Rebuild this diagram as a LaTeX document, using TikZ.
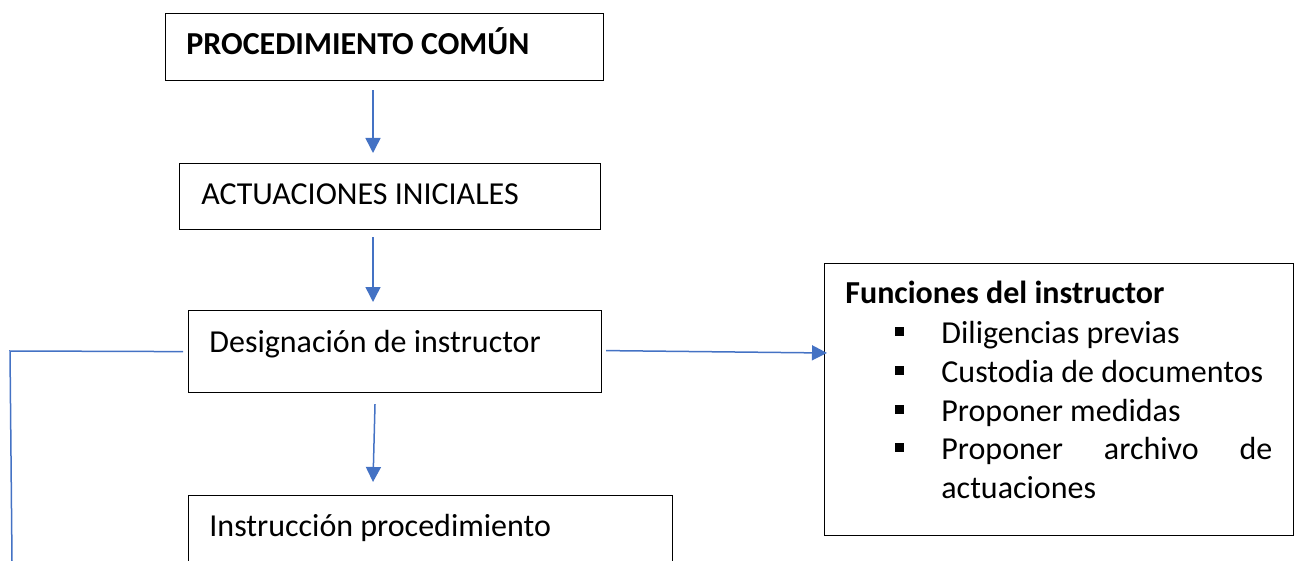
\documentclass[tikz,border=0pt]{standalone}
\usepackage{fontspec}
\setmainfont{Carlito}
\usetikzlibrary{arrows.meta,calc}
\definecolor{azul}{HTML}{4472C4}
\tikzset{
  caja/.style={draw=black, line width=0.6pt, anchor=north west, inner sep=0pt},
  texto/.style={anchor=base west, inner sep=0pt, font=\fontsize{16}{19.5}\selectfont},
  negrita/.style={texto, font=\fontsize{16}{19.5}\selectfont\bfseries},
  flecha/.style={azul, line width=0.75pt, -{Triangle[length=7.5pt,width=7.5pt]}},
  linea/.style={azul, line width=0.75pt},
}
\begin{document}
\begin{tikzpicture}[x=0.5pt, y=-0.5pt]
\useasboundingbox (0,0) rectangle (1300,561);

% cajas
\node[caja, minimum width=219pt, minimum height=33.5pt] (proc) at (165,13) {};
\node[caja, minimum width=210.5pt, minimum height=33pt] (ini) at (179,163) {};
\node[caja, minimum width=206.5pt, minimum height=41pt] (des) at (188,310) {};
\node[caja, minimum width=242pt, minimum height=45pt] (ins) at (188,495) {};
\node[caja, minimum width=234.5pt, minimum height=136pt] (fun) at (824,263) {};

% textos
\node[negrita] (proc-txt) at (186,55) {PROCEDIMIENTO COMÚN};
\node[texto] (ini-txt) at (201,205) {ACTUACIONES INICIALES};
\node[texto] (des-txt) at (209,352) {Designación de instructor};
\node[texto] (ins-txt) at (209,536) {Instrucción procedimiento};
\node[negrita] (fun-txt) at (845,303) {Funciones del instructor};

% funciones
\foreach \y/\txt [count=\i] in {343/Diligencias previas, 382/Custodia de documentos,
    421/Proponer medidas, 459/{\makebox[165.5pt][s]{Proponer\hfill archivo\hfill de}}} {
  \fill (895,\y-16) rectangle (904,\y-7);
  \node[texto] (item\i) at (941,\y) {\txt};
}
\node[texto] (item5) at (941,498) {actuaciones};

% flechas
\draw[flecha] ($(proc.south west)+(208,9)$) -- ($(ini.north west)+(194,-10)$);
\draw[flecha] ($(ini.south west)+(194,7)$) -- ($(des.north west)+(185,-8)$);
\draw[flecha] ($(des.south west)+(187,11)$) -- ($(ins.north west)+(185,-13)$);
\draw[flecha] ($(des.east)+(4,-1)$) -- ($(fun.north west)+(3,90)$);

% rama izquierda
\coordinate (codo) at (10,351);
\coordinate (abajo) at (12,561);
\draw[linea] ($(des.west)+(-5,0)$) -- (codo) -- (abajo);

\end{tikzpicture}
\end{document}
